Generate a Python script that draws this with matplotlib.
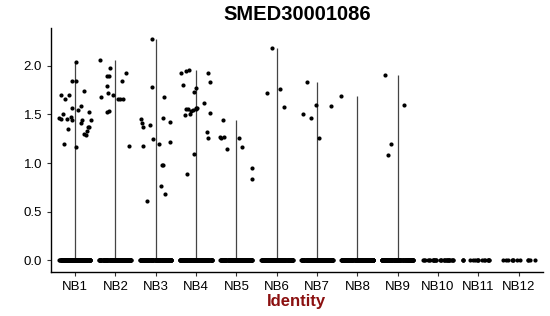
import numpy as np
import matplotlib.pyplot as plt

plt.rcParams['font.family'] = ['Liberation Sans', 'DejaVu Sans']

# expression values (non-zero cells only)
groups = ['NB1', 'NB2', 'NB3', 'NB4', 'NB5', 'NB6', 'NB7', 'NB8', 'NB9', 'NB10', 'NB11', 'NB12']
nb1 = [1.85, 1.53, 1.51, 1.57, 1.59, 1.37, 1.44, 1.20, 1.16, 1.33, 1.45, 1.55, 1.66, 1.74,
       1.37, 2.04, 1.46, 1.70, 1.85, 1.29, 1.45, 1.41, 1.44, 1.35, 1.44, 1.70, 1.47, 1.30]
nb2 = [2.06, 1.93, 1.70, 1.79, 1.53, 1.66, 1.68, 1.90, 1.90, 1.72, 1.66, 1.66, 1.18, 1.85, 1.54, 1.98]
nb3 = [1.46, 1.41, 1.20, 1.18, 0.76, 1.68, 1.42, 1.78, 2.28, 1.25, 0.98, 0.68, 1.37, 1.39,
       1.45, 0.61, 0.98, 1.22]
nb4 = [1.49, 1.09, 0.89, 1.95, 1.96, 1.93, 1.93, 1.83, 1.73, 1.62, 1.57, 1.52, 1.56, 1.56,
       1.57, 1.56, 1.54, 1.50, 1.80, 1.77, 1.32, 1.26, 1.55]
nb5 = [1.26, 1.16, 0.84, 1.27, 1.27, 1.44, 1.14, 1.26, 0.95]
nb6 = [2.19, 1.58, 1.72, 1.76]
nb7 = [1.26, 1.60, 1.59, 1.83, 1.46, 1.51]
nb8 = [1.69]
nb9 = [1.91, 1.60, 1.20, 1.08]
nonzero = [nb1, nb2, nb3, nb4, nb5, nb6, nb7, nb8, nb9, [], [], []]
# number of cells with zero expression per group
n_zero = [150, 150, 150, 150, 150, 150, 150, 150, 150, 30, 16, 12]

rng = np.random.default_rng(3)

fig = plt.figure(figsize=(5.5, 3.16), dpi=100)
ax = fig.add_axes([0.0927, 0.139, 0.8943, 0.772])

for i, g in enumerate(groups):
    vals = np.concatenate([np.zeros(n_zero[i]), np.array(nonzero[i], dtype=float)])
    # thin violin -> vertical line up to the max value
    if vals.max() > 0:
        ax.vlines(i + 1, 0, vals.max(), color='#444444', lw=0.9, zorder=1)
    xj = i + 1 + rng.uniform(-0.4, 0.4, len(vals))
    ax.scatter(xj, vals, s=9, color='black', linewidths=0, zorder=2)

ax.set_xlim(0.4, 12.6)
ax.set_ylim(-0.124, 2.39)
ax.set_xticks(range(1, len(groups) + 1))
ax.set_xticklabels(groups)
ax.set_yticks([0, 0.5, 1.0, 1.5, 2.0])
ax.set_yticklabels(['0.0', '0.5', '1.0', '1.5', '2.0'])
ax.tick_params(labelsize=9.5, length=3, color='#333333', labelcolor='black')
for s in ['top', 'right']:
    ax.spines[s].set_visible(False)
for s in ['left', 'bottom']:
    ax.spines[s].set_linewidth(1.0)

ax.set_xlabel('Identity', fontsize=12, fontweight='bold', color='#8B1010', labelpad=1)
ax.set_title('SMED30001086', fontsize=14.5, fontweight='bold', pad=6)

fig.savefig('out.png', dpi=100)
